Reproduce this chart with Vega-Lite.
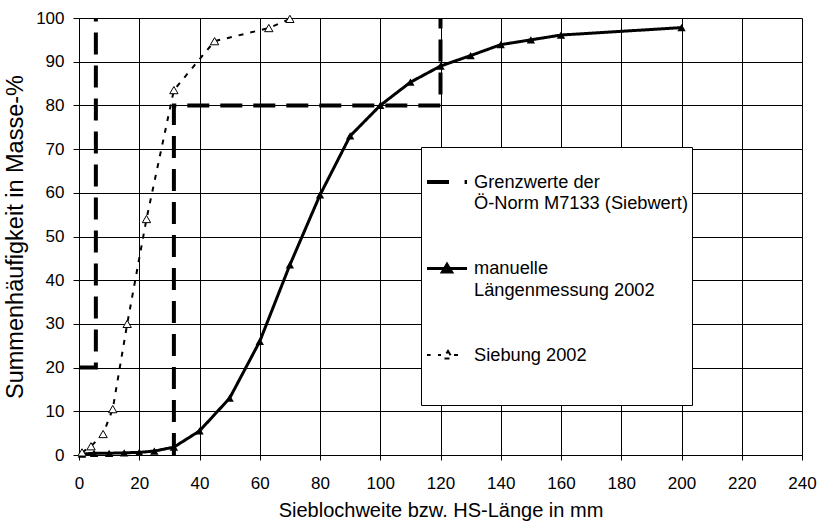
{
  "$schema": "https://vega.github.io/schema/vega-lite/v6.json",
  "autosize": {"type": "none"},
  "width": 723,
  "height": 437,
  "padding": {"left": 79, "top": 18, "right": 25, "bottom": 66},
  "background": "white",
  "config": {
    "view": {"stroke": null},
    "font": "Liberation Sans",
    "axis": {
      "labelFont": "Liberation Sans",
      "labelFontSize": 17,
      "labelColor": "black",
      "titleFont": "Liberation Sans",
      "titleFontWeight": "normal",
      "titleColor": "black",
      "domainColor": "black",
      "domainWidth": 1,
      "tickColor": "black",
      "tickWidth": 1,
      "gridColor": "black",
      "gridOpacity": 1,
      "gridWidth": 1
    }
  },
  "datasets": {
    "rows": [
      {"series": "Grenzwerte", "seg": "a", "ord": 1, "x": 0, "y": 20},
      {"series": "Grenzwerte", "seg": "a", "ord": 2, "x": 5.6, "y": 20},
      {"series": "Grenzwerte", "seg": "a", "ord": 3, "x": 5.6, "y": 100},
      {"series": "Grenzwerte", "seg": "b", "ord": 1, "x": 31.5, "y": 0},
      {"series": "Grenzwerte", "seg": "b", "ord": 2, "x": 31.5, "y": 80},
      {"series": "Grenzwerte", "seg": "b", "ord": 3, "x": 120, "y": 80},
      {"series": "Grenzwerte", "seg": "b", "ord": 4, "x": 120, "y": 100},
      {"series": "manuell", "seg": "m", "ord": 1, "x": 1, "y": 0.2},
      {"series": "manuell", "seg": "m", "ord": 2, "x": 5, "y": 0.4},
      {"series": "manuell", "seg": "m", "ord": 3, "x": 10, "y": 0.4},
      {"series": "manuell", "seg": "m", "ord": 4, "x": 15, "y": 0.5},
      {"series": "manuell", "seg": "m", "ord": 5, "x": 20, "y": 0.6},
      {"series": "manuell", "seg": "m", "ord": 6, "x": 25, "y": 0.9},
      {"series": "manuell", "seg": "m", "ord": 7, "x": 31.5, "y": 1.8},
      {"series": "manuell", "seg": "m", "ord": 8, "x": 40, "y": 5.5},
      {"series": "manuell", "seg": "m", "ord": 9, "x": 50, "y": 13},
      {"series": "manuell", "seg": "m", "ord": 10, "x": 60, "y": 26},
      {"series": "manuell", "seg": "m", "ord": 11, "x": 70, "y": 43.5},
      {"series": "manuell", "seg": "m", "ord": 12, "x": 80, "y": 59.5},
      {"series": "manuell", "seg": "m", "ord": 13, "x": 90, "y": 73},
      {"series": "manuell", "seg": "m", "ord": 14, "x": 100, "y": 80},
      {"series": "manuell", "seg": "m", "ord": 15, "x": 110, "y": 85.3},
      {"series": "manuell", "seg": "m", "ord": 16, "x": 120, "y": 89},
      {"series": "manuell", "seg": "m", "ord": 17, "x": 130, "y": 91.4},
      {"series": "manuell", "seg": "m", "ord": 18, "x": 140, "y": 93.9},
      {"series": "manuell", "seg": "m", "ord": 19, "x": 150, "y": 95},
      {"series": "manuell", "seg": "m", "ord": 20, "x": 160, "y": 96.1},
      {"series": "manuell", "seg": "m", "ord": 21, "x": 200, "y": 97.8},
      {"series": "Siebung", "seg": "s", "ord": 1, "x": 1, "y": 0.6},
      {"series": "Siebung", "seg": "s", "ord": 2, "x": 4, "y": 2},
      {"series": "Siebung", "seg": "s", "ord": 3, "x": 8, "y": 4.8},
      {"series": "Siebung", "seg": "s", "ord": 4, "x": 11.2, "y": 10.5},
      {"series": "Siebung", "seg": "s", "ord": 5, "x": 16, "y": 30},
      {"series": "Siebung", "seg": "s", "ord": 6, "x": 22.4, "y": 54},
      {"series": "Siebung", "seg": "s", "ord": 7, "x": 31.5, "y": 83.5},
      {"series": "Siebung", "seg": "s", "ord": 8, "x": 45, "y": 94.7},
      {"series": "Siebung", "seg": "s", "ord": 9, "x": 63, "y": 97.7},
      {"series": "Siebung", "seg": "s", "ord": 10, "x": 70, "y": 99.8}
    ]
  },
  "data": {"name": "rows"},
  "encoding": {
    "x": {
      "field": "x",
      "type": "quantitative",
      "scale": {"domain": [0, 240], "nice": false},
      "axis": {
        "title": "Sieblochweite bzw. HS-Länge in mm",
        "titleFontSize": 20,
        "values": [0, 20, 40, 60, 80, 100, 120, 140, 160, 180, 200, 220, 240],
        "tickSize": 5,
        "labelPadding": 15,
        "titlePadding": 9,
        "labelFlush": false
      }
    },
    "y": {
      "field": "y",
      "type": "quantitative",
      "scale": {"domain": [0, 100], "nice": false},
      "axis": {
        "title": "Summenhäufigkeit in Masse-%",
        "titleFontSize": 23.5,
        "values": [0, 10, 20, 30, 40, 50, 60, 70, 80, 90, 100],
        "tickSize": 6,
        "labelPadding": 9,
        "titlePadding": 8
      }
    }
  },
  "layer": [
    {
      "mark": {"type": "line", "color": "black", "strokeCap": "butt", "strokeJoin": "miter"},
      "encoding": {
        "detail": {"field": "seg"},
        "order": {"field": "ord", "type": "quantitative"},
        "strokeWidth": {
          "field": "series",
          "type": "nominal",
          "scale": {"domain": ["Grenzwerte", "manuell", "Siebung"], "range": [4, 2, 2]},
          "legend": null
        },
        "strokeDash": {
          "field": "series",
          "type": "nominal",
          "scale": {"domain": ["Grenzwerte", "manuell", "Siebung"], "range": [[22, 11], [1, 0], [5, 7]]},
          "legend": {
            "title": " ",
            "titleFontSize": 7,
            "titlePadding": 2,
            "orient": "none",
            "legendX": 342,
            "legendY": 129,
            "padding": 4,
            "fillColor": "white",
            "strokeColor": "black",
            "symbolSize": 1600,
            "labelOffset": 5,
            "rowPadding": 34,
            "labelFont": "Liberation Sans",
            "labelFontSize": 18.25,
            "labelColor": "black",
            "labelLimit": 400,
            "labelBaseline": "alphabetic",
            "labelExpr": "datum.value === 'Grenzwerte' ? ['Grenzwerte der', 'Ö-Norm M7133 (Siebwert)'] : datum.value === 'manuell' ? ['manuelle', 'Längenmessung 2002'] : ['Siebung 2002', '', '']",
            "encoding": {
              "symbols": {
                "shape": {"value": {"expr": "datum.value === 'Grenzwerte' ? 'M-1,0L0.15,0M0.88,0L1,0' : datum.value === 'manuell' ? 'M-1,0L1,0M0,-0.2L0.23,0.18L-0.23,0.18Z' : 'M-1,0L-0.82,0M-0.45,0L-0.3,0M0.35,0L0.55,0M0.05,-0.2L0.28,0.18L-0.18,0.18Z'"}},
                "fill": {"value": {"expr": "datum.value === 'manuell' ? 'black' : datum.value === 'Siebung' ? 'white' : 'transparent'"}},
                "strokeWidth": {"value": {"expr": "datum.value === 'Grenzwerte' ? 4 : 1.5"}},
                "strokeDash": {"value": [1, 0]},
                "stroke": {"value": "black"},
                "opacity": {"value": 1}
              },
              "labels": {
                "lineHeight": {"value": {"expr": "datum.value === 'Siebung' ? 18 : 21.5"}},
                "dy": {"value": 5.8}
              }
            }
          }
        }
      }
    },
    {
      "transform": [{"filter": "datum.series === 'manuell'"}],
      "mark": {"type": "point", "shape": "triangle-up", "filled": true, "color": "black", "size": 70, "opacity": 1}
    },
    {
      "transform": [{"filter": "datum.series === 'Siebung'"}],
      "mark": {"type": "point", "shape": "triangle-up", "fill": "white", "stroke": "black", "strokeWidth": 1, "size": 70, "opacity": 1}
    }
  ]
}
